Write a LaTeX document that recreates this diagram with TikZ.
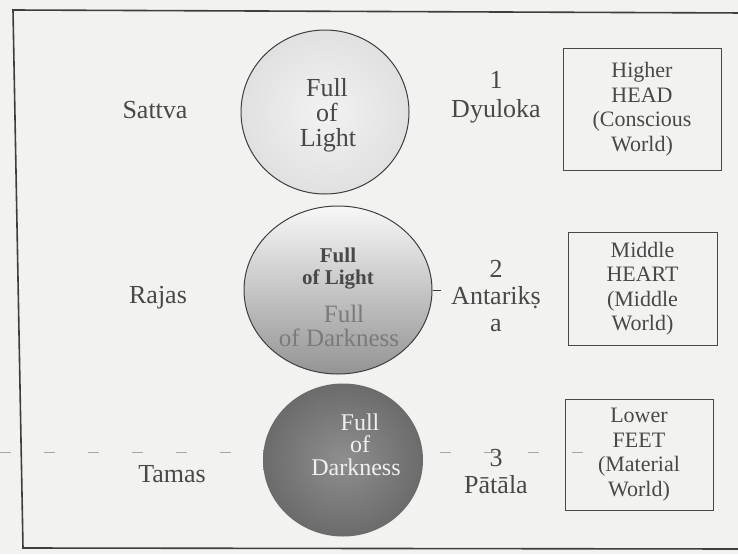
\documentclass[tikz,border=0pt]{standalone}
\usepackage{fontspec}
\setmainfont{Liberation Serif}
\usetikzlibrary{shapes.geometric}
\definecolor{paper}{RGB}{242,242,240}
\definecolor{ink}{RGB}{72,72,72}
\definecolor{rule}{RGB}{62,62,62}
\begin{document}
\begin{tikzpicture}[x=1pt,y=-1pt,
  lbl/.style={text=ink, font=\fontsize{26}{30}\selectfont, inner sep=0pt, anchor=base},
  boldlbl/.style={text=ink, font=\fontsize{21}{24}\bfseries, inner sep=0pt, anchor=base},
  darklbl/.style={text=black!52, font=\fontsize{25}{28}\selectfont, inner sep=0pt, anchor=base},
  whitelbl/.style={text=black!6, font=\fontsize{24}{26}\selectfont, inner sep=0pt, anchor=base},
  worldbox/.style={draw=ink, line width=0.9pt, rectangle, inner sep=0pt, align=center,
    text=ink, font=\fontsize{22}{24.5}\selectfont},
  orb/.style={ellipse, inner sep=0pt},
]
% page and frame
\fill[paper] (0,0) rectangle (738,554);
\useasboundingbox (0,0) rectangle (738,554);
\draw[rule, line width=1.6pt] (745,13) -- (13,10) -- (23,548) -- (745,549);

% faint dashed rule across the lower row
\draw[black!35, line width=0.9pt, dash pattern=on 11pt off 33pt] (0,452) -- (610,452);

% the three gunas
\node[lbl] (sattva) at (155,118) {Sattva};
\node[lbl] (rajas)  at (158,303) {Rajas};
\node[lbl] (tamas)  at (172,482) {Tamas};

% the three spheres
\node[orb, minimum width=168pt, minimum height=164pt, draw=rule, line width=1pt,
      inner color=black!5, outer color=black!12] (c1) at (325,112) {};
\node[orb, minimum width=188pt, minimum height=168pt, draw=rule, line width=1pt,
      top color=black!3, middle color=black!15, bottom color=black!42] (c2) at (338,290) {};
\node[orb, minimum width=160pt, minimum height=153pt,
      inner color=black!44, outer color=black!58] (c3) at (343,460) {};
\draw[rule, line width=0.8pt] (c2.east) -- ++(8,0);

% sphere captions
\node[lbl] (c1a) at (327,96)  {Full};
\node[lbl] (c1b) at (327,121) {of};
\node[lbl] (c1c) at (328,146) {Light};

\node[boldlbl] (c2a) at (338,262) {Full};
\node[boldlbl] (c2b) at (338,284) {of Light};
\node[darklbl] (c2c) at (344,322) {Full};
\node[darklbl] (c2d) at (339,346) {of Darkness};

\node[whitelbl] (c3a) at (360,430) {Full};
\node[whitelbl] (c3b) at (360,452) {of};
\node[whitelbl] (c3c) at (356,475) {Darkness};

% the three lokas
\node[lbl] (n1) at (496,88)  {1};
\node[lbl] (l1) at (496,117) {Dyuloka};
\node[lbl] (n2) at (496,277) {2};
\node[lbl] (l2) at (496,304) {Antarikṣ};
\node[lbl] (l2b) at (496,331) {a};
\node[lbl] (n3) at (496,466) {3};
\node[lbl] (l3) at (496,493) {Pātāla};

% body / world boxes
\node[worldbox, minimum width=158pt, minimum height=122pt] (b1) at (642,109)
  {Higher\\HEAD\\(Conscious\\World)};
\node[worldbox, minimum width=149pt, minimum height=113pt] (b2) at (642.5,288.5)
  {Middle\\HEART\\(Middle\\World)};
\node[worldbox, minimum width=148pt, minimum height=111pt] (b3) at (639,454.5)
  {Lower\\FEET\\(Material\\World)};
\end{tikzpicture}
\end{document}
